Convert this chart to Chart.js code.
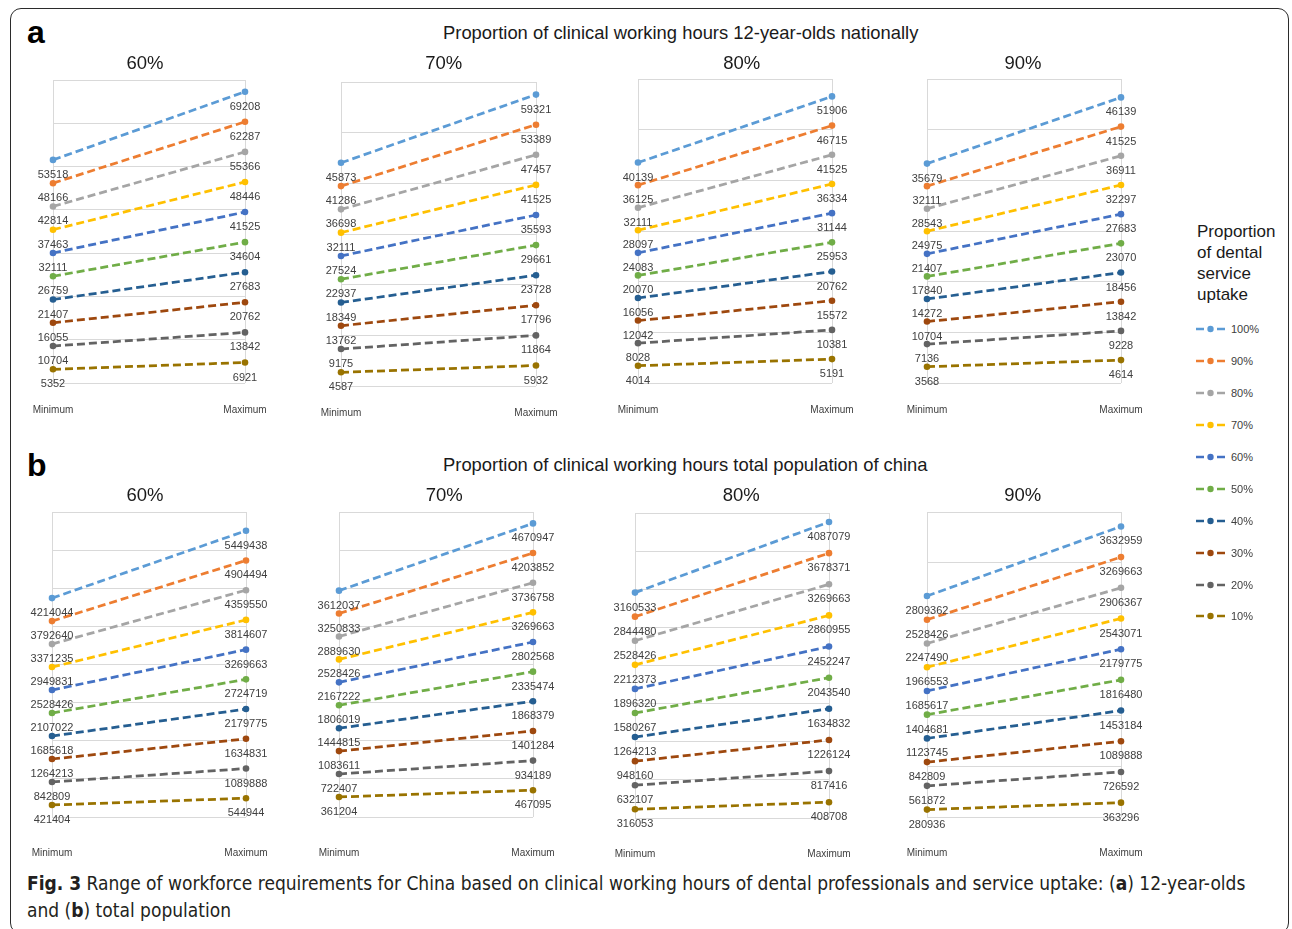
<!DOCTYPE html>
<html>
<head>
<meta charset="utf-8">
<script src="https://cdn.jsdelivr.net/npm/chart.js@4.4.1/dist/chart.umd.min.js"></script>
<style>
  html, body { margin: 0; padding: 0; background: #fff; }
  #fig { position: relative; width: 1292px; height: 929px; overflow: hidden; font-family: "Liberation Sans", Arial, sans-serif; color: #1a1a1a; }
  #frame { position: absolute; left: 10px; top: 8px; width: 1279px; height: 926px; border: 1.5px solid #2b2b2b; border-radius: 11px; box-sizing: border-box; }
  .abs { position: absolute; white-space: nowrap; line-height: 1; }
  .panel-letter { font-weight: bold; font-size: 32px; color: #000; }
  .section-title { font-size: 18.4px; color: #1a1a1a; }
  .panel-title { font-size: 18.5px; color: #1a1a1a; transform: translateX(-50%); }
  canvas { position: absolute; }
  #legend-title { position: absolute; left: 1197px; top: 220.6px; font-size: 17px; line-height: 21px; color: #1a1a1a; }
  .legend-item { position: absolute; left: 1195px; height: 12px; display: flex; align-items: center; font-size: 11px; color: #404040; }
  .legend-item svg { margin-right: 5px; }
  #caption { position: absolute; left: 27px; top: 870px; width: 1225px; font-family: "Liberation Sans Narrow", "DejaVu Sans Condensed", "Open Sans", sans-serif; font-stretch: condensed; font-size: 19px; line-height: 27px; color: #231f20; }
  #caption b { font-weight: bold; }
</style>
</head>
<body>
<div id="fig">
  <div id="frame"></div>
  <div class="abs panel-letter" style="left:27px; top:16.4px;">a</div>
  <div class="abs panel-letter" style="left:27px; top:449px;">b</div>
  <div class="abs section-title" style="left:443px; top:24.4px;">Proportion of clinical working hours 12-year-olds nationally</div>
  <div class="abs section-title" style="left:443px; top:456.3px;">Proportion of clinical working hours total population of china</div>
  <div id="legend-title">Proportion<br>of dental<br>service<br>uptake</div>
  <div id="caption"><b>Fig. 3</b> Range of workforce requirements for China based on clinical working hours of dental professionals and service uptake: (<b>a</b>) 12-year-olds and (<b>b</b>) total population</div>
</div>
<script>
// ---- categories and series labels ----
const categories = ['Minimum', 'Maximum'];
const uptakeLabels = ['100%', '90%', '80%', '70%', '60%', '50%', '40%', '30%', '20%', '10%'];
const hoursLabels = ['60%', '70%', '80%', '90%'];

// ---- (a) 12-year-olds nationally: workforce at each uptake level ----
const a60Min = [53518, 48166, 42814, 37463, 32111, 26759, 21407, 16055, 10704, 5352];
const a60Max = [69208, 62287, 55366, 48446, 41525, 34604, 27683, 20762, 13842, 6921];
const a70Min = [45873, 41286, 36698, 32111, 27524, 22937, 18349, 13762, 9175, 4587];
const a70Max = [59321, 53389, 47457, 41525, 35593, 29661, 23728, 17796, 11864, 5932];
const a80Min = [40139, 36125, 32111, 28097, 24083, 20070, 16056, 12042, 8028, 4014];
const a80Max = [51906, 46715, 41525, 36334, 31144, 25953, 20762, 15572, 10381, 5191];
const a90Min = [35679, 32111, 28543, 24975, 21407, 17840, 14272, 10704, 7136, 3568];
const a90Max = [46139, 41525, 36911, 32297, 27683, 23070, 18456, 13842, 9228, 4614];

// ---- (b) total population of China ----
const b60Min = [4214044, 3792640, 3371235, 2949831, 2528426, 2107022, 1685618, 1264213, 842809, 421404];
const b60Max = [5449438, 4904494, 4359550, 3814607, 3269663, 2724719, 2179775, 1634831, 1089888, 544944];
const b70Min = [3612037, 3250833, 2889630, 2528426, 2167222, 1806019, 1444815, 1083611, 722407, 361204];
const b70Max = [4670947, 4203852, 3736758, 3269663, 2802568, 2335474, 1868379, 1401284, 934189, 467095];
const b80Min = [3160533, 2844480, 2528426, 2212373, 1896320, 1580267, 1264213, 948160, 632107, 316053];
const b80Max = [4087079, 3678371, 3269663, 2860955, 2452247, 2043540, 1634832, 1226124, 817416, 408708];
const b90Min = [2809362, 2528426, 2247490, 1966553, 1685617, 1404681, 1123745, 842809, 561872, 280936];
const b90Max = [3632959, 3269663, 2906367, 2543071, 2179775, 1816480, 1453184, 1089888, 726592, 363296];

// ---- value-axis bounds and number of gridline bands per panel ----
const aAxisMin = [2200, 1890, 940, 990];
const aAxisMax = [71900, 61800, 55000, 49050];
const aGridBands = [7, 6, 6, 6];
const bAxisMin = [200900, 45500, 201600, 193200];
const bAxisMax = [5793000, 4850900, 4205450, 3803750];
const bGridBands = [8, 8, 8, 6];

// ---- styling ----
const seriesColors = ['#5B9BD5', '#ED7D31', '#A5A5A5', '#FFC000', '#4472C4', '#70AD47', '#255E91', '#9E480E', '#636363', '#997300'];
const FONT = '"Liberation Sans", Arial, sans-serif';

// plot boxes (left, top, right, bottom) and panel title centres
const aBoxes = [[53, 80, 245, 383], [341, 82, 536, 386], [638, 79, 832, 383], [927, 79, 1121, 383]];
const bBoxes = [[52, 512, 246, 817], [339, 512, 533, 817], [635, 513, 829, 818], [927, 512, 1121, 817]];
const aTitleX = [145, 443.7, 741.7, 1023];
const bTitleX = [145, 444.3, 741.3, 1022.8];

// draws each point's value just below the marker
const valueLabels = {
  id: 'valueLabels',
  afterDatasetsDraw(chart) {
    const ctx = chart.ctx;
    ctx.save();
    ctx.font = '11px ' + FONT;
    ctx.fillStyle = '#404040';
    ctx.textAlign = 'center';
    ctx.textBaseline = 'middle';
    chart.data.datasets.forEach((ds, i) => {
      chart.getDatasetMeta(i).data.forEach((pt, j) => {
        ctx.fillText(String(ds.data[j]), pt.x, pt.y + 15);
      });
    });
    ctx.restore();
  }
};

const fig = document.getElementById('fig');

function addText(cls, text, x, top) {
  const d = document.createElement('div');
  d.className = 'abs ' + cls;
  d.style.left = x + 'px';
  d.style.top = top + 'px';
  d.textContent = text;
  fig.appendChild(d);
}

function makePanel(box, mins, maxs, yMin, yMax, bands, tickPad, axisH) {
  const padL = 62, padR = 62, padT = 12;
  const w = box[2] - box[0] + padL + padR;
  const h = box[3] - box[1] + padT + axisH;
  const cv = document.createElement('canvas');
  cv.width = w; cv.height = h;
  cv.style.left = (box[0] - padL) + 'px';
  cv.style.top = (box[1] - padT) + 'px';
  cv.style.width = w + 'px';
  cv.style.height = h + 'px';
  fig.appendChild(cv);

  const datasets = uptakeLabels.map((lab, i) => ({
    label: lab,
    data: [mins[i], maxs[i]],
    borderColor: seriesColors[i],
    backgroundColor: seriesColors[i],
    borderWidth: 2.75,
    borderDash: [8, 4],
    pointRadius: 3.3,
    pointHoverRadius: 3.3,
    pointBorderWidth: 0,
    tension: 0,
    clip: false
  }));

  new Chart(cv.getContext('2d'), {
    type: 'line',
    data: { labels: categories, datasets },
    options: {
      responsive: false,
      animation: false,
      events: [],
      layout: { padding: { left: padL, right: padR, top: padT, bottom: 0 } },
      plugins: { legend: { display: false }, tooltip: { enabled: false }, title: { display: false } },
      scales: {
        x: {
          type: 'category',
          offset: false,
          grid: { color: '#d9d9d9', lineWidth: 1, drawTicks: false },
          border: { display: false },
          ticks: { padding: tickPad, color: '#404040', font: { size: 10, family: FONT }, maxRotation: 0, autoSkip: false },
          afterFit: s => { s.height = axisH; }
        },
        y: {
          min: yMin,
          max: yMax,
          grid: { color: '#d9d9d9', lineWidth: 1, drawTicks: false },
          border: { display: false },
          ticks: { display: false },
          afterBuildTicks: s => {
            s.ticks = Array.from({ length: bands + 1 }, (_, k) => ({ value: yMin + k * (yMax - yMin) / bands }));
          },
          afterFit: s => { s.width = 0; }
        }
      }
    },
    plugins: [valueLabels]
  });
}

const aMins = [a60Min, a70Min, a80Min, a90Min];
const aMaxs = [a60Max, a70Max, a80Max, a90Max];
const bMins = [b60Min, b70Min, b80Min, b90Min];
const bMaxs = [b60Max, b70Max, b80Max, b90Max];

for (let p = 0; p < 4; p++) {
  makePanel(aBoxes[p], aMins[p], aMaxs[p], aAxisMin[p], aAxisMax[p], aGridBands[p], 21, 40);
  makePanel(bBoxes[p], bMins[p], bMaxs[p], bAxisMin[p], bAxisMax[p], bGridBands[p], 30, 50);
  addText('panel-title', hoursLabels[p], aTitleX[p], 53.6);
  addText('panel-title', hoursLabels[p], bTitleX[p], 486);
}

// legend for the uptake series
uptakeLabels.forEach((lab, i) => {
  const item = document.createElement('div');
  item.className = 'legend-item';
  item.style.top = (329.3 + i * 31.9 - 6) + 'px';
  const c = seriesColors[i];
  item.innerHTML =
    '<svg width="31" height="8" viewBox="0 0 31 8">' +
    '<line x1="1" y1="4" x2="9" y2="4" stroke="' + c + '" stroke-width="2.5"/>' +
    '<circle cx="15.5" cy="4" r="3.2" fill="' + c + '"/>' +
    '<line x1="22" y1="4" x2="30" y2="4" stroke="' + c + '" stroke-width="2.5"/>' +
    '</svg><span>' + lab + '</span>';
  fig.appendChild(item);
});
</script>
</body>
</html>
